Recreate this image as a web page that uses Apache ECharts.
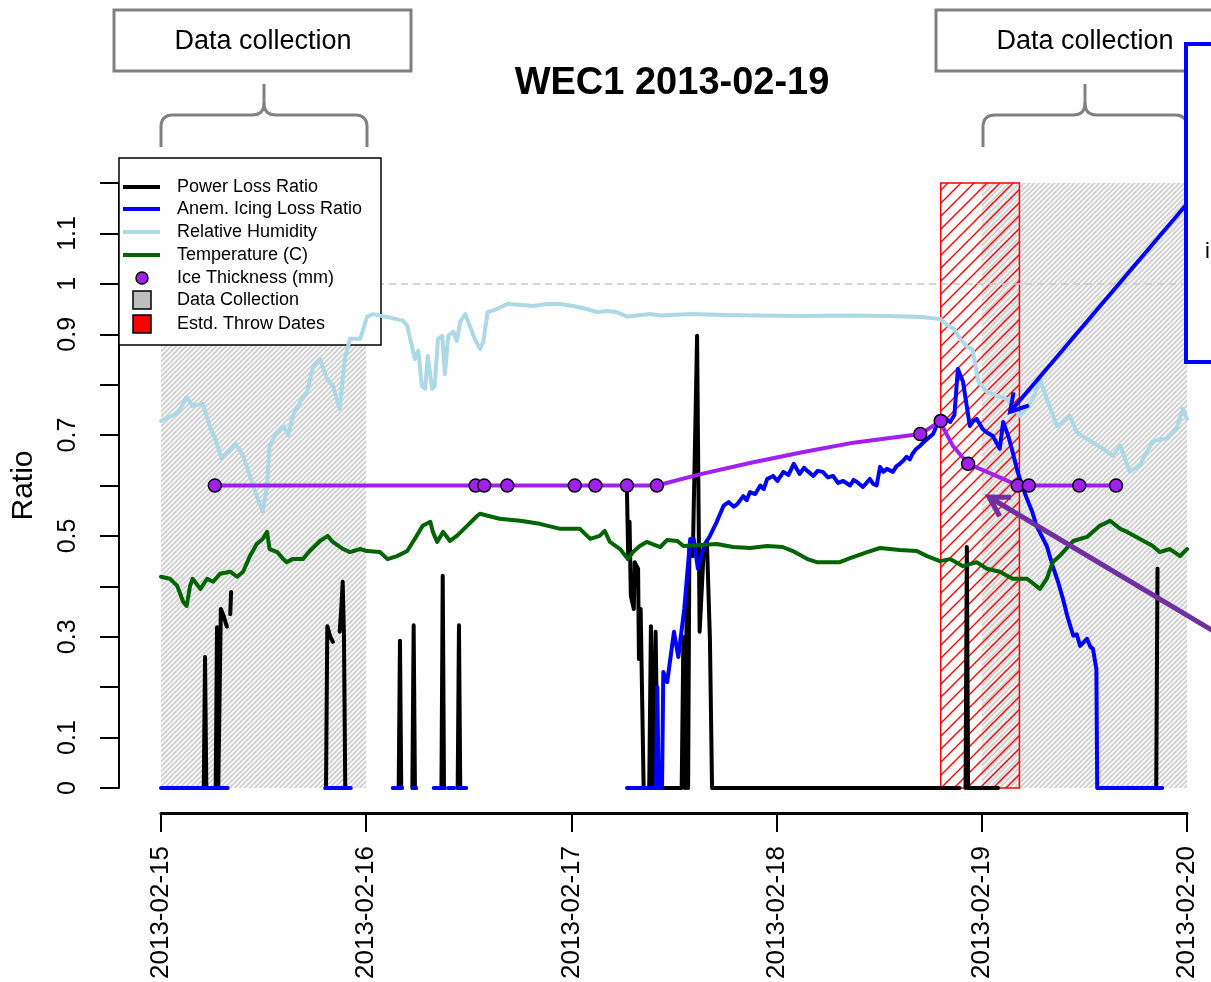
<!DOCTYPE html>
<html>
<head>
<meta charset="utf-8">
<title>WEC1 2013-02-19</title>
<script src="https://cdn.jsdelivr.net/npm/echarts@6/dist/echarts.min.js"></script>
<style>
  html, body { margin: 0; padding: 0; background: #ffffff; }
  #chart { width: 1211px; height: 982px; }
</style>
</head>
<body>
<div id="chart"></div>
<script>
// x values are hours after 2013-02-15 00:00
const dateLabels = ['2013-02-15', '2013-02-16', '2013-02-17', '2013-02-18', '2013-02-19', '2013-02-20'];
const yTickLabels = [0, 0.1, 0.3, 0.5, 0.7, 0.9, 1, 1.1];

// Periods (hours)
const collectionPeriods = [[0, 24], [96, 120]];
const throwPeriod = [91.2, 100.4];

// Power loss ratio, split where the record has gaps
const powerLoss = [
  [[5.0, 0], [5.15, 0.26], [5.3, 0]],
  [[6.4, 0], [6.55, 0.319], [6.7, 0], [6.9, 0], [7.0, 0.355], [7.35, 0.34], [7.7, 0.32]],
  [[8.1, 0.345], [8.2, 0.389]],
  [[19.3, 0], [19.45, 0.321], [19.8, 0.30], [20.1, 0.29]],
  [[20.9, 0.31], [21.1, 0.36], [21.25, 0.409], [21.4, 0.3], [21.55, 0]],
  [[27.8, 0], [27.95, 0.292], [28.1, 0]],
  [[29.4, 0], [29.55, 0.323], [29.7, 0]],
  [[32.8, 0], [32.95, 0.421], [33.1, 0]],
  [[34.7, 0], [34.85, 0.323], [35.0, 0]],
  [[54.5, 0.587], [54.65, 0.454], [54.8, 0.528], [54.95, 0.381], [55.3, 0.355], [55.4, 0.448], [55.8, 0.435],
   [55.9, 0.256], [56.1, 0.355], [56.3, 0.355], [56.45, 0], [57.1, 0], [57.3, 0.321], [57.55, 0], [57.85, 0.31],
   [58.1, 0], [60.9, 0], [61.1, 0.30], [61.3, 0], [61.5, 0.39], [61.65, 0], [61.8, 0.48], [62.2, 0.46],
   [62.7, 0.897], [63.0, 0.31], [63.5, 0.48], [63.85, 0.49], [64.2, 0.296], [64.45, 0], [93.4, 0]],
  [[94.1, 0], [94.25, 0.478], [94.4, 0], [97.9, 0]],
  [[116.4, 0], [116.55, 0.435]]
];

// Anemometer icing loss ratio
const anemLoss = [
  [[0, 0], [7.8, 0]],
  [[19.2, 0], [20.4, 0]],
  [[20.6, 0], [22.2, 0]],
  [[27.1, 0], [28.2, 0]],
  [[29.5, 0], [29.85, 0]],
  [[31.9, 0], [33.2, 0]],
  [[33.6, 0], [34.3, 0]],
  [[34.8, 0], [35.7, 0]],
  [[54.5, 0], [57.9, 0], [58.05, 0.2], [58.2, 0], [58.6, 0], [58.75, 0.23], [59.2, 0.21], [60.0, 0.31],
   [60.5, 0.26], [61.2, 0.355], [61.9, 0.494], [62.3, 0.494], [62.8, 0.435], [63.5, 0.48], [64.2, 0.5],
   [65.0, 0.528], [65.8, 0.56], [66.4, 0.567], [67.0, 0.558], [67.4, 0.563], [68.1, 0.579], [68.5, 0.571],
   [68.9, 0.587], [69.5, 0.583], [70.1, 0.6], [70.5, 0.593], [70.9, 0.613], [71.6, 0.619], [72.1, 0.609],
   [72.8, 0.627], [73.4, 0.621], [74.0, 0.643], [74.7, 0.623], [75.2, 0.635], [75.6, 0.629], [76.3, 0.619],
   [76.8, 0.629], [77.4, 0.627], [78.0, 0.616], [78.6, 0.619], [79.2, 0.605], [79.8, 0.609], [80.6, 0.6],
   [81.0, 0.611], [81.4, 0.607], [82.1, 0.597], [82.5, 0.605], [82.9, 0.613], [83.3, 0.603], [83.7, 0.6],
   [84.1, 0.637], [84.5, 0.627], [84.9, 0.633], [85.6, 0.627], [86.0, 0.638], [86.4, 0.643], [86.8, 0.649],
   [87.2, 0.657], [87.6, 0.652], [87.9, 0.663], [88.3, 0.672], [88.8, 0.679], [89.2, 0.686], [89.6, 0.692],
   [90.3, 0.702], [90.9, 0.726], [91.5, 0.736], [92.3, 0.726], [92.8, 0.74], [93.2, 0.831], [93.8, 0.806],
   [94.6, 0.718], [95.0, 0.728], [95.4, 0.732], [96.1, 0.712], [96.6, 0.705], [97.3, 0.698], [98.1, 0.673],
   [98.5, 0.726], [99.1, 0.698], [99.6, 0.667], [100.2, 0.627], [100.8, 0.595], [101.3, 0.573], [101.9, 0.548],
   [102.4, 0.52], [103.0, 0.5], [103.6, 0.48], [104.3, 0.44], [104.9, 0.41], [105.5, 0.375], [106.0, 0.341],
   [106.7, 0.302], [107.1, 0.305], [107.5, 0.282], [108.3, 0.296], [108.7, 0.28], [109.0, 0.276],
   [109.4, 0.236], [109.5, 0], [117.1, 0]]
];

// Relative humidity (fraction)
const humidity = [
  [0, 0.728], [1, 0.736], [2, 0.745], [3, 0.775], [3.7, 0.758], [4.9, 0.762], [5.7, 0.718], [6.4, 0.69],
  [7.1, 0.653], [8.0, 0.67], [8.7, 0.683], [9.6, 0.659], [10.4, 0.619], [11.2, 0.579], [11.9, 0.548],
  [12.4, 0.599], [12.7, 0.679], [13.6, 0.706], [14.3, 0.718], [14.9, 0.7], [15.4, 0.738], [16.3, 0.766],
  [17.1, 0.786], [17.8, 0.837], [18.6, 0.851], [19.4, 0.812], [20.1, 0.798], [20.9, 0.752], [21.5, 0.851],
  [22.1, 0.891], [23.3, 0.891], [24.1, 0.935], [24.8, 0.94], [25.6, 0.937], [26.8, 0.933], [28.3, 0.927],
  [28.8, 0.917], [29.5, 0.865], [29.7, 0.851], [30.1, 0.867], [30.5, 0.798], [30.9, 0.792], [31.2, 0.857],
  [31.7, 0.792], [32.0, 0.796], [32.4, 0.891], [32.9, 0.897], [33.2, 0.821], [33.6, 0.897], [34.2, 0.905],
  [34.6, 0.887], [35.0, 0.925], [35.6, 0.94], [36.1, 0.917], [36.7, 0.891], [37.3, 0.871], [37.7, 0.885],
  [38.2, 0.944], [39.3, 0.95], [40.5, 0.96], [42.3, 0.958], [43.5, 0.956], [45.1, 0.96], [46.7, 0.96],
  [48.2, 0.956], [49.8, 0.95], [51.0, 0.944], [52.2, 0.946], [53.3, 0.944], [54.5, 0.935], [55.7, 0.937],
  [57.2, 0.94], [58.4, 0.937], [62, 0.94], [66, 0.938], [70, 0.937], [75, 0.936], [80, 0.937], [85, 0.936],
  [89, 0.934], [91.1, 0.93], [92.0, 0.918], [92.8, 0.91], [93.5, 0.89], [94.3, 0.875], [94.9, 0.871],
  [95.6, 0.806], [96.6, 0.786], [97.8, 0.778], [98.9, 0.772], [100.5, 0.738], [102.0, 0.772], [102.8, 0.812],
  [103.6, 0.772], [104.8, 0.718], [106.3, 0.738], [107.1, 0.706], [108.3, 0.692], [110.2, 0.673],
  [111.3, 0.659], [112.2, 0.679], [113.3, 0.627], [114.5, 0.641], [116.0, 0.688], [117.7, 0.694],
  [118.8, 0.714], [119.5, 0.752], [120, 0.732]
];

// Temperature (scaled)
const temperature = [
  [0, 0.419], [1.05, 0.415], [1.9, 0.401], [2.6, 0.369], [3.0, 0.361], [3.4, 0.401], [3.7, 0.415], [4.6, 0.395],
  [5.4, 0.415], [6.1, 0.409], [6.9, 0.425], [8.1, 0.429], [8.9, 0.419], [9.6, 0.429], [10.4, 0.46], [11.2, 0.484],
  [11.9, 0.494], [12.4, 0.508], [12.7, 0.474], [13.6, 0.468], [14.3, 0.454], [14.7, 0.448], [15.4, 0.454],
  [16.6, 0.454], [17.4, 0.47], [18.6, 0.49], [19.5, 0.5], [20.1, 0.488], [21.3, 0.474], [22.1, 0.468],
  [23.3, 0.474], [24.1, 0.47], [25.6, 0.468], [26.5, 0.454], [27.6, 0.46], [28.8, 0.47], [29.9, 0.5],
  [30.6, 0.52], [31.5, 0.528], [31.8, 0.508], [32.3, 0.488], [33.0, 0.508], [33.8, 0.49], [34.6, 0.5],
  [35.8, 0.52], [37.0, 0.54], [37.3, 0.544], [39.6, 0.534], [42, 0.53], [44.3, 0.524], [46.7, 0.514],
  [49, 0.514], [50.2, 0.494], [51.3, 0.5], [51.9, 0.51], [52.5, 0.488], [53.7, 0.474], [54.6, 0.454],
  [55.2, 0.468], [56.0, 0.48], [56.8, 0.488], [58.4, 0.478], [59.2, 0.492], [60.4, 0.49], [61.1, 0.48],
  [63.0, 0.482], [65.0, 0.484], [66.9, 0.478], [68.9, 0.476], [70.9, 0.48], [72.7, 0.478], [73.9, 0.47],
  [75.6, 0.454], [76.7, 0.448], [79.4, 0.448], [80.6, 0.456], [82.6, 0.468], [84.1, 0.476], [86.4, 0.472],
  [88.4, 0.47], [89.6, 0.46], [91.1, 0.45], [92.3, 0.454], [93.8, 0.44], [95.4, 0.448], [96.6, 0.435],
  [98.1, 0.429], [99.6, 0.415], [101.3, 0.415], [102.8, 0.395], [103.6, 0.415], [104.3, 0.448], [105.1, 0.46],
  [106.7, 0.49], [108.3, 0.498], [109.8, 0.52], [111.0, 0.53], [112.2, 0.514], [113.0, 0.508], [114.5, 0.494],
  [116.0, 0.48], [116.8, 0.468], [118.0, 0.474], [119.2, 0.46], [120, 0.474]
];

// Ice thickness: interpolated trace and measured points
const iceTrace = [
  [6.3, 0.6], [36.8, 0.6], [37.8, 0.6], [40.5, 0.6], [48.4, 0.6], [50.8, 0.6], [54.5, 0.6], [58.0, 0.6],
  [63, 0.622], [69, 0.645], [75, 0.666], [81, 0.685], [88.8, 0.702], [91.2, 0.728], [91.5, 0.714],
  [92.6, 0.679], [93.8, 0.655], [94.4, 0.643], [96.6, 0.627], [98.5, 0.613], [100.2, 0.6], [101.5, 0.6],
  [107.4, 0.6], [111.7, 0.6]
];
const icePoints = [
  [6.3, 0.6], [36.8, 0.6], [37.8, 0.6], [40.5, 0.6], [48.4, 0.6], [50.8, 0.6], [54.5, 0.6], [58.0, 0.6],
  [88.8, 0.702], [91.2, 0.728], [94.4, 0.643], [100.2, 0.6], [101.5, 0.6], [107.4, 0.6], [111.7, 0.6]
];

// join segments with a missing value so the line breaks between them
function joinSegments(segments) {
  const out = [];
  segments.forEach((seg, i) => {
    if (i > 0) {
      const prev = segments[i - 1];
      out.push([(prev[prev.length - 1][0] + seg[0][0]) / 2, null]);
    }
    seg.forEach(p => out.push(p));
  });
  return out;
}

// diagonal hatch tile used as a texture fill
function hatchTile(size, background, stroke, width) {
  const c = document.createElement('canvas');
  c.width = size; c.height = size;
  const g = c.getContext('2d');
  if (background) { g.fillStyle = background; g.fillRect(0, 0, size, size); }
  g.strokeStyle = stroke;
  g.lineWidth = width;
  g.beginPath();
  g.moveTo(-1, size + 1); g.lineTo(size + 1, -1);
  g.moveTo(-2, 2); g.lineTo(2, -2);
  g.moveTo(size - 2, size + 2); g.lineTo(size + 2, size - 2);
  g.stroke();
  return c;
}

const FONT = '"Liberation Sans", Arial, Helvetica, sans-serif';
const Y_TOP = 1.2;

const chart = echarts.init(document.getElementById('chart'), null, { renderer: 'canvas' });

const lineBase = {
  type: 'line', showSymbol: false, symbol: 'none', connectNulls: false, animation: false,
  silent: true, z: 3
};

// legend drawn as a boxed key
const legendRows = [
  { label: 'Power Loss Ratio', kind: 'line', color: '#000000' },
  { label: 'Anem. Icing Loss Ratio', kind: 'line', color: '#0000ff' },
  { label: 'Relative Humidity', kind: 'line', color: '#add8e6' },
  { label: 'Temperature (C)', kind: 'line', color: '#006400' },
  { label: 'Ice Thickness (mm)', kind: 'point', color: '#a020f0' },
  { label: 'Data Collection', kind: 'box', color: '#bebebe' },
  { label: 'Estd. Throw Dates', kind: 'box', color: '#ff0000' }
];
const legendRowY = [187, 209, 232, 255, 278, 300, 324];
const LEGEND_Z = 2;
const legendElements = [{
  type: 'rect', z: LEGEND_Z, shape: { x: 119, y: 158, width: 262, height: 187 },
  style: { fill: '#ffffff', stroke: '#000000', lineWidth: 1.5 }
}];
legendRows.forEach((row, i) => {
  const y = legendRowY[i];
  if (row.kind === 'line') {
    legendElements.push({ type: 'line', z: LEGEND_Z, shape: { x1: 123, y1: y, x2: 160, y2: y },
      style: { stroke: row.color, lineWidth: 4 } });
  } else if (row.kind === 'point') {
    legendElements.push({ type: 'circle', z: LEGEND_Z, shape: { cx: 142, cy: y, r: 6 },
      style: { fill: row.color, stroke: '#000000', lineWidth: 1.5 } });
  } else {
    legendElements.push({ type: 'rect', z: LEGEND_Z, shape: { x: 133, y: y - 9, width: 18, height: 18 },
      style: { fill: row.color, stroke: '#000000', lineWidth: 1.5 } });
  }
  legendElements.push({ type: 'text', z: LEGEND_Z, x: 177, y: y,
    style: { text: row.label, font: '18px ' + FONT, fill: '#000000', textVerticalAlign: 'middle' } });
});

// curly brace made of straight pieces and quadratic corners
function brace(x0, x1, yTop, yBar, yEnd) {
  const c = (x0 + x1) / 2, r = 12;
  const st = { stroke: '#808080', lineWidth: 3, fill: null };
  const ln = (a, b, cc, d) => ({ type: 'line', z: 10, shape: { x1: a, y1: b, x2: cc, y2: d }, style: st });
  const qd = (a, b, px, py, cc, d) => ({ type: 'bezierCurve', z: 10,
    shape: { x1: a, y1: b, cpx1: px, cpy1: py, x2: cc, y2: d }, style: st });
  return [
    ln(x0, yEnd, x0, yBar + r), qd(x0, yBar + r, x0, yBar, x0 + r, yBar),
    ln(x0 + r, yBar, c - r, yBar), qd(c - r, yBar, c, yBar, c, yBar - r),
    ln(c, yBar - r, c, yTop), qd(c, yBar - r, c, yBar, c + r, yBar),
    ln(c + r, yBar, x1 - r, yBar), qd(x1 - r, yBar, x1, yBar, x1, yBar + r),
    ln(x1, yBar + r, x1, yEnd)
  ];
}

function arrow(x0, y0, x1, y1, head, color, width) {
  const len = Math.hypot(x1 - x0, y1 - y0);
  const bx = (x0 - x1) / len, by = (y0 - y1) / len;
  const a = Math.PI / 6;
  const p1 = [x1 + head * (bx * Math.cos(a) - by * Math.sin(a)), y1 + head * (bx * Math.sin(a) + by * Math.cos(a))];
  const p2 = [x1 + head * (bx * Math.cos(a) + by * Math.sin(a)), y1 + head * (-bx * Math.sin(a) + by * Math.cos(a))];
  return [
    { type: 'line', z: 12, shape: { x1: x0, y1: y0, x2: x1, y2: y1 }, style: { stroke: color, lineWidth: width } },
    { type: 'polyline', z: 12, shape: { points: [p1, [x1, y1], p2] }, style: { stroke: color, lineWidth: width, fill: null } }
  ];
}

const annotationElements = [
  { type: 'rect', z: 10, shape: { x: 114, y: 10, width: 297, height: 61 },
    style: { fill: '#ffffff', stroke: '#808080', lineWidth: 3 } },
  { type: 'text', z: 10, x: 263, y: 42,
    style: { text: 'Data collection', font: '27px ' + FONT, fill: '#000000', textAlign: 'center', textVerticalAlign: 'middle' } },
  { type: 'rect', z: 10, shape: { x: 936, y: 10, width: 300, height: 61 },
    style: { fill: '#ffffff', stroke: '#808080', lineWidth: 3 } },
  { type: 'text', z: 10, x: 1085, y: 42,
    style: { text: 'Data collection', font: '27px ' + FONT, fill: '#000000', textAlign: 'center', textVerticalAlign: 'middle' } },
  { type: 'rect', z: 11, shape: { x: 1186, y: 44, width: 60, height: 318 },
    style: { fill: '#ffffff', stroke: '#0000ff', lineWidth: 4 } },
  { type: 'text', z: 11, x: 1205, y: 252,
    style: { text: 'i', font: '22px ' + FONT, fill: '#000000', textVerticalAlign: 'middle' } },
  { type: 'text', z: 10, x: 672, y: 84,
    style: { text: 'WEC1 2013-02-19', font: 'bold 38px ' + FONT, fill: '#000000', textAlign: 'center', textVerticalAlign: 'middle' } }
].concat(brace(161, 367, 84, 115, 147))
 .concat(brace(983, 1187, 84, 115, 147))
 .concat(arrow(1186, 205, 1010, 412, 20, '#0000ff', 4))
 .concat(arrow(1215, 632, 989, 497, 22, '#7030a0', 5));

const option = {
  backgroundColor: '#ffffff',
  animation: false,
  grid: { left: 161, right: 24, top: 183, bottom: 193, containLabel: false },
  xAxis: {
    type: 'value', min: 0, max: 120, interval: 24, offset: 25,
    axisLine: { show: true, onZero: false, lineStyle: { color: '#000000', width: 3 } },
    axisTick: { show: true, length: 19, lineStyle: { color: '#000000', width: 2 } },
    splitLine: { show: false },
    axisLabel: {
      rotate: 90, margin: 33, color: '#000000', fontFamily: FONT, fontSize: 26,
      padding: [7, 0, 0, 0],
      formatter: v => dateLabels[Math.round(v / 24)] || ''
    }
  },
  yAxis: {
    type: 'value', min: 0, max: Y_TOP, interval: 0.1, offset: 42,
    name: 'Ratio', nameLocation: 'middle', nameRotate: 90, nameGap: 80,
    nameTextStyle: { color: '#000000', fontFamily: FONT, fontSize: 30 },
    axisLine: { show: true, onZero: false, lineStyle: { color: '#000000', width: 2 } },
    axisTick: { show: true, length: 19, lineStyle: { color: '#000000', width: 2 } },
    splitLine: { show: false },
    axisLabel: {
      rotate: 90, margin: 38, color: '#000000', fontFamily: FONT, fontSize: 25,
      formatter: v => yTickLabels.some(t => Math.abs(t - v) < 1e-6) ? String(Math.round(v * 10) / 10) : ''
    }
  },
  graphic: { elements: legendElements.concat(annotationElements) },
  series: [
    {
      name: 'Data Collection', type: 'line', data: [], z: 0, silent: true,
      markArea: {
        silent: true, z: 1,
        itemStyle: { color: { image: hatchTile(5, '#d3d3d3', '#ffffff', 1.4), repeat: 'repeat' } },
        data: collectionPeriods.map(p => [{ xAxis: p[0], yAxis: 0 }, { xAxis: p[1], yAxis: Y_TOP }])
      },
      markLine: {
        silent: true, z: 1, symbol: 'none', label: { show: false },
        lineStyle: { color: '#c8c8c8', type: [7, 5], width: 1.5 },
        data: [[{ coord: [0, 1] }, { coord: [120, 1] }]]
      }
    },
    {
      name: 'Estd. Throw Dates', type: 'line', data: [], z: 0, silent: true,
      markArea: {
        silent: true, z: 1,
        itemStyle: {
          color: { image: hatchTile(13, null, '#ff0000', 1.4), repeat: 'repeat' },
          borderColor: '#ff0000', borderWidth: 1.5
        },
        data: [[{ xAxis: throwPeriod[0], yAxis: 0 }, { xAxis: throwPeriod[1], yAxis: Y_TOP }]]
      }
    },
    Object.assign({}, lineBase, { name: 'Power Loss Ratio', data: joinSegments(powerLoss),
      lineStyle: { color: '#000000', width: 4, cap: 'round', join: 'round' } }),
    Object.assign({}, lineBase, { name: 'Anem. Icing Loss Ratio', data: joinSegments(anemLoss),
      lineStyle: { color: '#0000ff', width: 4, cap: 'round', join: 'round' } }),
    Object.assign({}, lineBase, { name: 'Relative Humidity', data: humidity,
      lineStyle: { color: '#add8e6', width: 4, cap: 'round', join: 'round' } }),
    Object.assign({}, lineBase, { name: 'Temperature (C)', data: temperature,
      lineStyle: { color: '#006400', width: 4, cap: 'round', join: 'round' } }),
    Object.assign({}, lineBase, { name: 'Ice Thickness (mm)', data: iceTrace,
      lineStyle: { color: '#a020f0', width: 4, cap: 'round', join: 'round' } }),
    {
      name: 'Ice Thickness (mm) points', type: 'scatter', data: icePoints, symbol: 'circle', symbolSize: 13,
      z: 4, silent: true, animation: false,
      itemStyle: { color: '#a020f0', borderColor: '#000000', borderWidth: 1.5, opacity: 1 }
    }
  ]
};

chart.setOption(option);
</script>
</body>
</html>
